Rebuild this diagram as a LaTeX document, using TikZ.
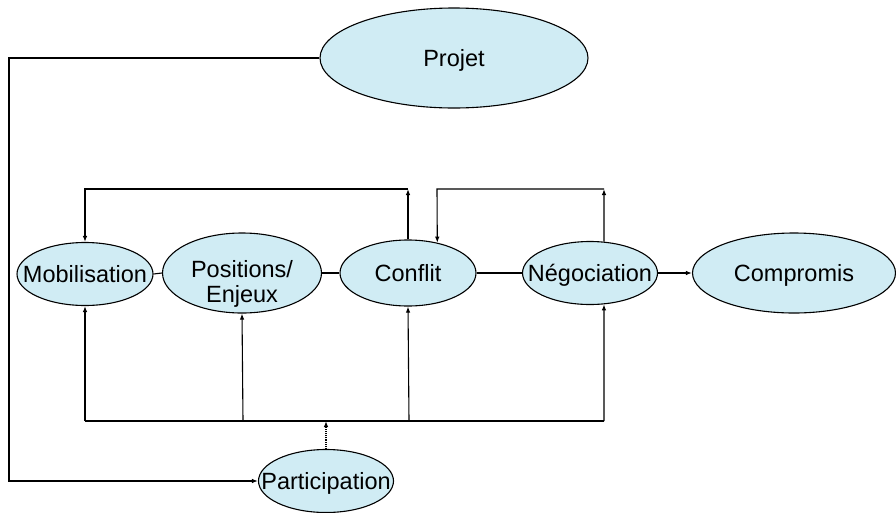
\documentclass[tikz,border=0pt]{standalone}
\usepackage{fontspec}
\setmainfont{Liberation Sans}
\usetikzlibrary{shapes.geometric,arrows.meta}
\definecolor{bubble}{RGB}{208,236,244}
% text of zero size, centred on the node centre, so the ellipse keeps its given size
\newcommand\onelabel[1]{\makebox[0pt][c]{\raisebox{-8.4pt}[0pt][0pt]{#1}}}
\newcommand\twolabel[2]{\makebox[0pt][c]{\raisebox{-29pt}[0pt][0pt]{\begin{tabular}[b]{@{}c@{}}#1\\#2\end{tabular}}}}
\begin{document}
\begin{tikzpicture}[x=1pt,y=-1pt,
  bubblenode/.style={ellipse,draw=black,line width=1.1pt,fill=bubble,inner sep=0pt,
    text height=0pt,text depth=0pt,font=\fontsize{23.5}{25}\selectfont},
  link/.style={line width=1.1pt},
  arr/.style={line width=1.1pt,-{Latex[length=6pt,width=4.5pt]}}]
\useasboundingbox (0,0) rectangle (896,512);

% stages of the process
\node[bubblenode,minimum width=268pt,minimum height=100pt] (proj) at (454,58) {\onelabel{Projet}};
\node[bubblenode,minimum width=136pt,minimum height=63pt] (mob) at (85,274) {\onelabel{Mobilisation}};
\node[bubblenode,minimum width=159pt,minimum height=80pt] (pos) at (242,273) {\twolabel{Positions/}{Enjeux}};
\node[bubblenode,minimum width=136pt,minimum height=66pt] (conf) at (408,273) {\onelabel{Conflit}};
\node[bubblenode,minimum width=135pt,minimum height=63pt] (neg) at (590,273) {\onelabel{Négociation}};
\node[bubblenode,minimum width=203pt,minimum height=80pt] (comp) at (794,273) {\onelabel{Compromis}};
\node[bubblenode,minimum width=135pt,minimum height=63pt] (part) at (326,481) {\onelabel{Participation}};

% main chain
\draw[link] (mob.east) -- (pos.west);
\draw[link] (pos.east) -- (conf.west);
\draw[link] (conf.east) -- (neg.west);
\draw[arr] (neg.east) -- (comp.west);

% feedback loops above the chain
\coordinate (t1) at (408,189);
\coordinate (t1l) at (85,189);
\draw[arr] (conf.north) -- (t1);
\draw[arr] (t1) -- (t1l) -- (mob.north);

\coordinate (t2) at (604,189);
\coordinate (t2l) at (437,189);
\draw[arr] (neg.66) -- (t2);
\draw[arr] (t2) -- (t2l) -- (conf.46);

% participation bus below the chain
\coordinate (b1) at (85,421);
\coordinate (b2) at (243,421);
\coordinate (b3) at (409,421);
\coordinate (b4) at (604,421);
\coordinate (bp) at (326,421);
\draw[link] (b1) -- (b4);
\draw[arr] (b1) -- (mob.south);
\draw[arr] (b2) -- (pos.south);
\draw[arr] (b3) -- (conf.south);
\draw[arr] (b4) -- (neg.294);
\draw[arr,densely dotted] (part.north) -- (bp);

% project feeds participation
\coordinate (l1) at (9,58);
\draw[arr] (proj.west) -- (l1) |- (part.west);
\end{tikzpicture}
\end{document}
